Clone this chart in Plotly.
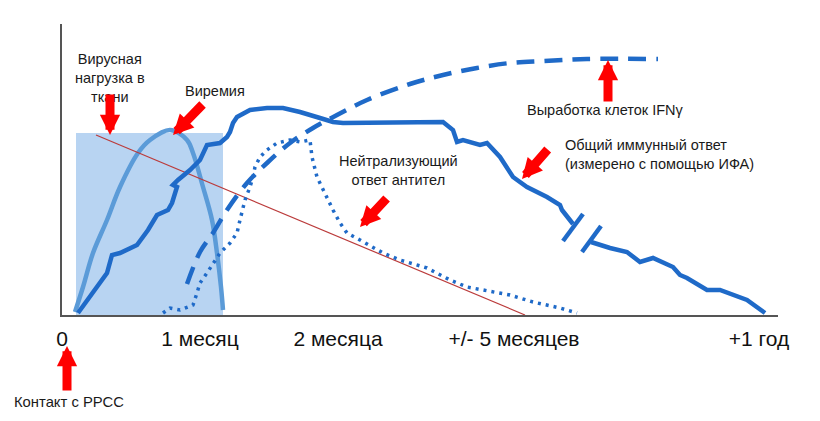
import plotly.graph_objects as go

# schematic units: x = time (compressed, not linear), y = relative level
tick_pos = [0, 138, 276, 452, 697]
tick_text = ["0", "1 месяц", "2 месяца", "+/- 5 месяцев", "+1 год"]

# light box = tissue viral load window
box_x = [14, 161]
box_top = 182

viremia_x = [13, 21, 31, 45, 58, 76, 88, 108, 125, 131, 141, 150, 155, 159, 161]
viremia_y = [3, 28, 62, 95, 128, 162, 175, 185, 175, 162, 128, 95, 62, 28, 5]

immune_x = [16, 31, 45, 50, 58, 75, 86, 95, 106, 110, 115, 111, 116, 128, 138, 145, 158, 165,
            168, 171, 175, 188, 205, 221, 238, 258, 271, 281, 288, 305, 338, 381, 391, 395,
            401, 418, 425, 438, 451, 465, 485, 498, 500, 505, 511]
immune_y = [2, 22, 42, 60, 62, 70, 85, 100, 105, 112, 128, 130, 135, 145, 155, 170, 172, 178,
            183, 192, 198, 205, 207, 207, 203, 197, 193, 192, 192, 193, 193, 193, 185, 173,
            175, 170, 172, 158, 138, 128, 118, 110, 105, 98, 91]
immune_tail_x = [529, 548, 565, 578, 591, 611, 618, 625, 645, 658, 685, 703]
immune_tail_y = [73, 67, 63, 53, 57, 48, 40, 37, 25, 25, 15, 2]

# the "//" break marks on the immune curve
break1_x = [501, 521]
break1_y = [74, 101]
break2_x = [520, 539]
break2_y = [63, 89]

ifn_x = [125, 138, 151, 165, 185, 205, 228, 251, 275, 305, 348, 381, 415, 448, 481, 525, 596]
ifn_y = [31, 63, 82, 105, 132, 152, 172, 187, 200, 215, 231, 240, 247, 252, 254, 256, 256]

nab_x = [101, 108, 118, 131, 135, 138, 145, 151, 158, 168, 175, 178, 183, 188, 191, 193, 198,
         205, 215, 228, 238, 248, 250, 255, 261, 271, 278, 285, 298, 321, 338, 365, 388, 405,
         421, 448, 471, 498, 515]
nab_y = [2, 7, 5, 10, 22, 32, 42, 52, 62, 72, 82, 95, 115, 128, 138, 148, 158, 165, 172,
         175, 173, 175, 158, 138, 125, 105, 92, 82, 75, 62, 55, 47, 35, 28, 25, 20, 13, 7, 2]

decline_x = [34, 463]
decline_y = [180, 0]

labels = [
    ("Вирусная<br>нагрузка в<br>ткани", 48, 237, "center"),
    ("Виремия", 153, 224, "center"),
    ("Выработка клеток IFNγ", 543, 205, "center"),
    ("Общий иммунный ответ<br>(измерено с помощью ИФА)", 501, 161, "left"),
    ("Нейтрализующий<br>ответ антител", 336, 145, "center"),
    ("Контакт с РРСС", 7, -87, "center"),
]

# red pointer arrows: (tip x, tip y, tail x, tail y)
arrows = [
    (48, 180, 48, 222),
    (111, 180, 142, 212),
    (546, 255, 546, 212),
    (460, 136, 487, 167),
    (298, 88, 326, 118),
    (5, -31, 5, -77),
]

Y_TOP = 291
DARK = "#1f6ac8"
MID = "#5b9bd8"
fig = go.Figure()

fig.add_trace(go.Scatter(x=[box_x[0], box_x[0], box_x[1], box_x[1]], y=[0, box_top, box_top, 0],
                         fill="toself", fillcolor="#b8d4f2", mode="none", hoverinfo="skip"))
fig.add_trace(go.Scatter(x=viremia_x, y=viremia_y, mode="lines",
                         line=dict(color=MID, width=4.5, shape="spline")))
fig.add_trace(go.Scatter(x=decline_x, y=decline_y, mode="lines",
                         line=dict(color="#bb3b3b", width=1.2)))
fig.add_trace(go.Scatter(x=nab_x, y=nab_y, mode="lines",
                         line=dict(color=DARK, width=3.5, dash="3px,5px")))
fig.add_trace(go.Scatter(x=ifn_x, y=ifn_y, mode="lines",
                         line=dict(color=DARK, width=4.5, dash="18px,10px", shape="spline")))
fig.add_trace(go.Scatter(x=immune_x, y=immune_y, mode="lines",
                         line=dict(color=DARK, width=4.5)))
fig.add_trace(go.Scatter(x=immune_tail_x, y=immune_tail_y, mode="lines",
                         line=dict(color=DARK, width=4.5)))
for bx, by in [(break1_x, break1_y), (break2_x, break2_y)]:
    fig.add_trace(go.Scatter(x=bx, y=by, mode="lines", line=dict(color=DARK, width=4.5)))

fig.update_traces(cliponaxis=False)

# y domain refs keep the labels below the axis visible
for text, x, y, align in labels:
    fig.add_annotation(x=x, y=y / Y_TOP, yref="y domain", text=text, showarrow=False,
                       align=align, xanchor="left" if align == "left" else "center",
                       yanchor="middle",
                       font=dict(size=14.5 if "РРСС" not in text else 14.8, color="#1a1a1a"))

for tx, ty, sx, sy in arrows:
    fig.add_annotation(x=tx, y=ty / Y_TOP, yref="y domain", ax=sx, ay=sy / Y_TOP,
                       axref="x", ayref="y domain", text="",
                       showarrow=True, arrowhead=2, arrowsize=0.45, arrowwidth=9,
                       arrowcolor="#ff0000")

fig.update_layout(
    width=820, height=421,
    margin=dict(l=54, r=50, t=16, b=114),
    paper_bgcolor="white", plot_bgcolor="white",
    showlegend=False,
    font=dict(family="Arial, Liberation Sans, sans-serif", color="#111"),
    xaxis=dict(range=[0, 716], showgrid=False, zeroline=False, showline=True,
               linecolor="#555", linewidth=1.5, tickvals=tick_pos, ticktext=tick_text,
               ticks="", tickfont=dict(size=21, color="#111"), ticklabelstandoff=4),
    yaxis=dict(range=[0, Y_TOP], showgrid=False, zeroline=False, showline=True,
               linecolor="#555", linewidth=1.5, showticklabels=False, ticks=""),
)

fig.write_html("out.html")
